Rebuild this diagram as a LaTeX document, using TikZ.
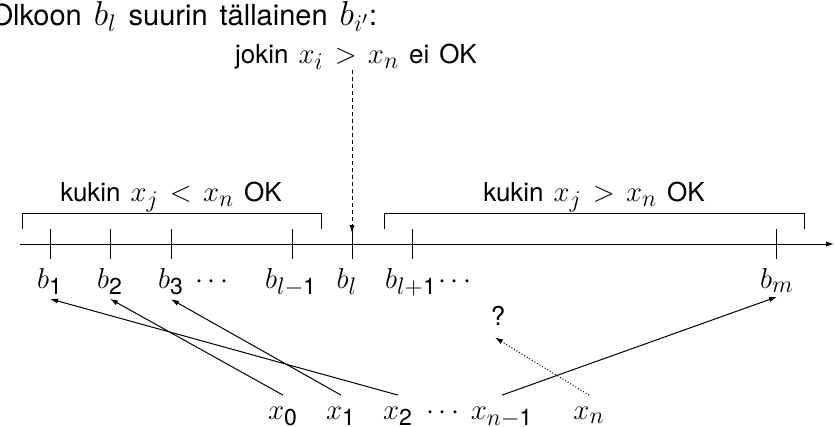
\documentclass[tikz,border=0pt]{standalone}
\usepackage{fontspec}
\setmainfont{TeX Gyre Heros}
\setsansfont{TeX Gyre Heros}
\usetikzlibrary{arrows.meta}
\DeclareMathSizes{15.5}{15.5}{11.5}{8.5}
\DeclareMathSizes{17}{17}{12.5}{9}
\newcommand{\mm}[1]{{\fontsize{15.5}{17}\selectfont\thickmuskip=7mu plus 2mu\relax$#1$}}
\newcommand{\mmt}[1]{{\fontsize{17}{19}\selectfont$#1$}}
\newcommand{\sd}[1]{\mathsf{#1}}
\newcommand{\myfont}{\fontsize{13}{15}\selectfont\spaceskip=5pt plus 1pt\relax}
\newcommand{\titlefont}{\fontsize{14.5}{17}\selectfont\spaceskip=6pt plus 1pt\relax}
\begin{document}
\begin{tikzpicture}[x=0.5pt,y=-0.5pt,
  font=\myfont,
  every node/.style={inner sep=0pt},
  lbl/.style={anchor=base},
  line width=0.5pt,
  tip/.style={-{Latex[length=4pt,width=2.6pt]}},
  dashline/.style={dash pattern=on 2pt off 1.5pt},
  dotline/.style={dash pattern=on 0.5pt off 1pt}]
\useasboundingbox (0,0) rectangle (834,427);
% texts on top
\node[anchor=base west,font=\titlefont] (title) at (-10,26) {Olkoon \mmt{b_l} suurin tällainen \mmt{b_{i'}}:};
\node[lbl] (jokin) at (356,64) {jokin \mm{x_i > x_n} ei OK};
% axis
\coordinate (a0) at (20,244);
\coordinate (a1) at (834,244);
\draw[tip] (a0) -- (a1);
% ticks
\foreach \x in {50,110,171,292,352,412,776} \draw (\x,229) -- (\x,259);
\coordinate (tl) at (352,233);
% brackets
\draw (22,229) |- (321,214) -- (321,229);
\draw (384,229) |- (804,214) -- (804,229);
\node[lbl] (lt) at (171,202) {kukin \mm{x_j < x_n} OK};
\node[lbl] (rt) at (594,202) {kukin \mm{x_j > x_n} OK};
% dashed arrow
\draw[tip,dashline] (jokin.south -| tl) -- (tl);
% b labels
\node[lbl] (b1) at (50,288) {\mm{b_{\sd{1}}}};
\node[lbl] (b2) at (110,288) {\mm{b_{\sd{2}}}};
\node[lbl] (b3) at (171,288) {\mm{b_{\sd{3}}}};
\node[lbl] (d1) at (212,288) {\mm{\cdots}};
\node[lbl] (bl1) at (291,288) {\mm{b_{l-\sd{1}}}};
\node[lbl] (bl) at (347,288) {\mm{b_l}};
\node[lbl] (blp) at (411,288) {\mm{b_{l+\sd{1}}}};
\node[lbl] (d2) at (455,288) {\mm{\cdots}};
\node[lbl] (bm) at (777,288) {\mm{b_m}};
% x labels
\node[lbl] (x0) at (283,419) {\mm{x_{\sd{0}}}};
\node[lbl] (x1) at (341,419) {\mm{x_{\sd{1}}}};
\node[lbl] (x2) at (398,419) {\mm{x_{\sd{2}}}};
\node[lbl] (d3) at (443,419) {\mm{\cdots}};
\node[lbl] (xn1) at (502,419) {\mm{x_{n-\sd{1}}}};
\node[lbl] (xn) at (589,419) {\mm{x_n}};
\node[lbl] (q) at (498,325) {?};
% arrows
\draw[tip] ([yshift=5.5pt]x0.north) -- ([yshift=-2pt]b2.south);
\draw[tip] ([yshift=5.5pt]x1.north) -- ([yshift=-2pt]b3.south);
\draw[tip] ([yshift=5.5pt]x2.north) -- ([yshift=-2pt]b1.south);
\draw[tip] ([yshift=5.5pt]xn1.north) -- ([yshift=-2pt]bm.south);
\draw[tip,dotline] ([yshift=5.5pt]xn.north) -- ([xshift=-1.5pt,yshift=-6pt]q.south);
\end{tikzpicture}
\end{document}
